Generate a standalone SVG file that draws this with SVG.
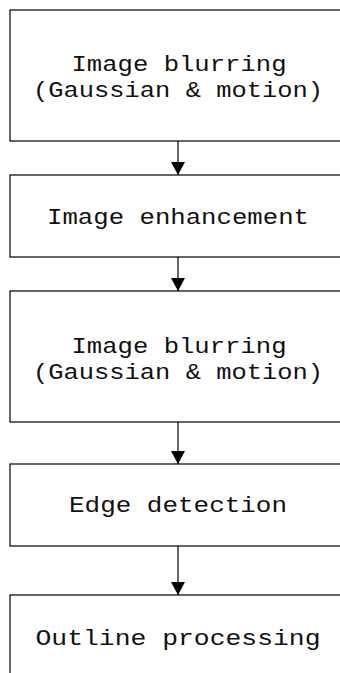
<svg xmlns="http://www.w3.org/2000/svg" width="340" height="673" viewBox="0 0 340 673">
<style>
.box{fill:#fff;stroke:#000;stroke-width:1.2}
.t{font-family:"Liberation Mono","DejaVu Sans Mono",monospace;font-size:22px;fill:#111;text-anchor:middle}
.c{stroke:#000;stroke-width:1.2;fill:none}
</style>
<defs>
<marker id="ah" markerUnits="userSpaceOnUse" markerWidth="14" markerHeight="16" refX="13" refY="7" orient="auto">
<path d="M0,0 L13,7 L0,14 Z" fill="#000"/>
</marker>
</defs>
<rect width="340" height="673" fill="#fff"/>
<g id="n1">
<rect class="box" x="10" y="10" width="340" height="131"/>
<text class="t" x="179" y="71" textLength="215" lengthAdjust="spacingAndGlyphs">Image blurring</text>
<text class="t" x="178" y="97" textLength="290" lengthAdjust="spacingAndGlyphs">(Gaussian &amp; motion)</text>
</g>
<g id="n2">
<rect class="box" x="10" y="175" width="340" height="82"/>
<text class="t" x="178" y="224" textLength="262" lengthAdjust="spacingAndGlyphs">Image enhancement</text>
</g>
<g id="n3">
<rect class="box" x="10" y="291" width="340" height="131"/>
<text class="t" x="179" y="353" textLength="215" lengthAdjust="spacingAndGlyphs">Image blurring</text>
<text class="t" x="178" y="379" textLength="290" lengthAdjust="spacingAndGlyphs">(Gaussian &amp; motion)</text>
</g>
<g id="n4">
<rect class="box" x="10" y="464" width="340" height="82"/>
<text class="t" x="178" y="512" textLength="218" lengthAdjust="spacingAndGlyphs">Edge detection</text>
</g>
<g id="n5">
<rect class="box" x="10" y="595" width="340" height="100"/>
<text class="t" x="178" y="645" textLength="285" lengthAdjust="spacingAndGlyphs">Outline processing</text>
</g>
<g id="connectors">
<line class="c" x1="178" y1="141" x2="178" y2="175" marker-end="url(#ah)"/>
<line class="c" x1="178" y1="257" x2="178" y2="291" marker-end="url(#ah)"/>
<line class="c" x1="178" y1="422" x2="178" y2="464" marker-end="url(#ah)"/>
<line class="c" x1="178" y1="546" x2="178" y2="595" marker-end="url(#ah)"/>
</g>
</svg>
